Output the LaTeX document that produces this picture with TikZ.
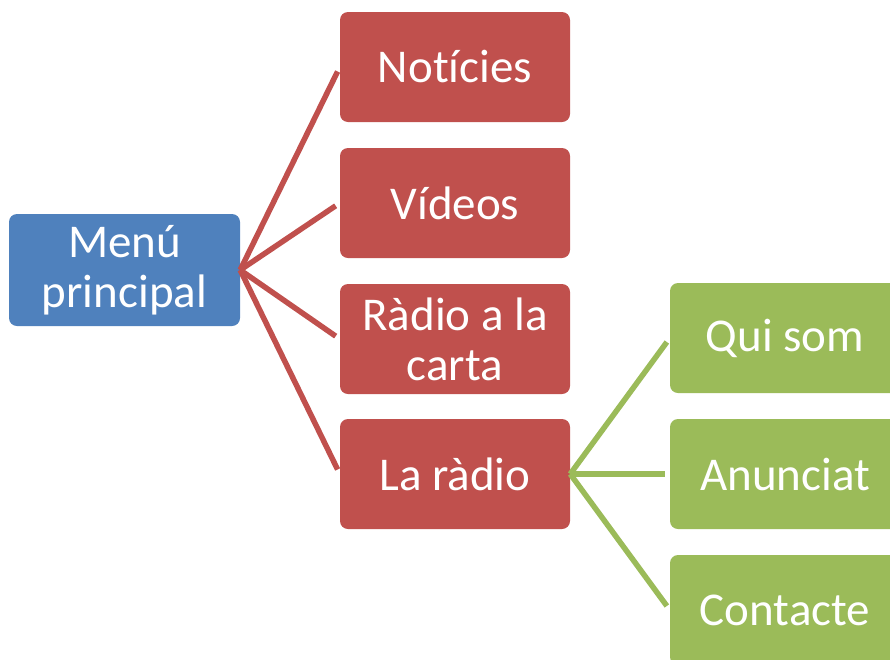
\documentclass[tikz,border=0pt]{standalone}
\usepackage{fontspec}
\setmainfont{Carlito}[Ligatures=NoCommon]
\definecolor{menublue}{HTML}{4F81BD}
\definecolor{itemred}{HTML}{C0504D}
\definecolor{subgreen}{HTML}{9BBB59}
\begin{document}
\begin{tikzpicture}[x=1pt,y=-1pt,
  box/.style={rounded corners=8pt,minimum width=230pt,minimum height=110pt,
    inner sep=0pt,text=white,align=center,font=\fontsize{47}{50}\selectfont},
  link/.style={line width=5.5pt,shorten >=5pt}]
\useasboundingbox (0,0) rectangle (890,659);
\clip (0,0) rectangle (890,659);
% arrel
\node[box,fill=menublue,minimum width=231pt,minimum height=112pt] (menu) at (124.5,270) {Menú\\principal};
% primer nivell
\node[box,fill=itemred] (noticies) at (455,67) {Notícies};
\node[box,fill=itemred] (videos) at (455,203) {Vídeos};
\node[box,fill=itemred] (radiocarta) at (455,339) {Ràdio a la\\carta};
\node[box,fill=itemred] (laradio) at (455,474) {La ràdio};
% segon nivell
\node[box,fill=subgreen] (quisom) at (785,338) {Qui som};
\node[box,fill=subgreen] (anunciat) at (785,474) {Anunciat};
\node[box,fill=subgreen] (contacte) at (785,610) {Contacte};
\foreach \n in {noticies,videos,radiocarta,laradio}
  \draw[link,itemred] (menu.east)--(\n.west);
\foreach \n in {quisom,anunciat,contacte}
  \draw[link,subgreen] (laradio.east)--(\n.west);
\end{tikzpicture}
\end{document}
